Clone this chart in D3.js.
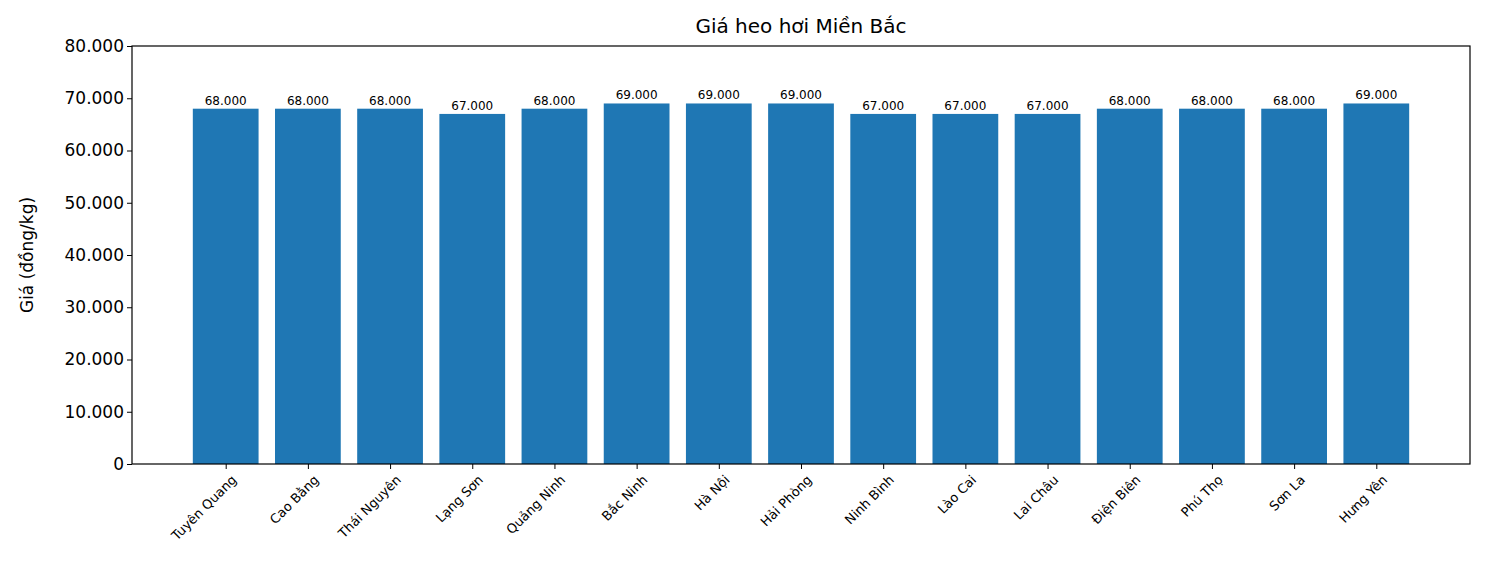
<!DOCTYPE html>
<html lang="en">
<head>
<meta charset="UTF-8">
<title>Giá heo hơi</title>
<script src="https://d3js.org/d3.v7.min.js"></script>
<style>
  body { margin: 0; background: #fff; font-family: "DejaVu Sans", sans-serif; }
</style>
</head>
<body>
<div id="chart"></div>
<script>
const provinces = ["Tuyên Quang", "Cao Bằng", "Thái Nguyên", "Lạng Sơn", "Quảng Ninh", "Bắc Ninh", "Hà Nội",
  "Hải Phòng", "Ninh Bình", "Lào Cai", "Lai Châu", "Điện Biên", "Phú Thọ", "Sơn La", "Hưng Yên"]
const prices = [68000, 68000, 68000, 67000, 68000, 69000, 69000, 69000, 67000, 67000, 67000, 68000, 68000, 68000, 69000]
const yTicks = [0, 10000, 20000, 30000, 40000, 50000, 60000, 70000, 80000]

const W = 1485, H = 584
const margin = {top: 46, right: 15, bottom: 120, left: 132}
const width = W - margin.left - margin.right
const height = H - margin.top - margin.bottom
const fmt = v => d3.format(",")(v).replace(/,/g, ".")

const svg = d3.select("#chart").append("svg").attr("width", W).attr("height", H)
const g = svg.append("g").attr("transform", `translate(${margin.left},${margin.top})`)

// matplotlib-like continuous x axis: bars at integer positions, width 0.8
const x = d3.scaleLinear().domain([-1.14, 15.14]).range([0, width])
const y = d3.scaleLinear().domain([0, 80000]).range([height, 0])

g.selectAll("rect").data(prices).enter().append("rect")
  .attr("x", (d, i) => x(i - 0.4))
  .attr("width", x(0.8) - x(0))
  .attr("y", d => y(d))
  .attr("height", d => height - y(d))
  .attr("fill", "#1f77b4")

g.selectAll(".val").data(prices).enter().append("text")
  .attr("x", (d, i) => x(i))
  .attr("y", d => y(d) - 4)
  .attr("text-anchor", "middle")
  .attr("font-size", 12)
  .text(fmt)

const yAxis = g.append("g").call(d3.axisLeft(y).tickValues(yTicks).tickFormat(fmt).tickSizeOuter(0).tickSize(5))
yAxis.selectAll("text").attr("font-size", 17).attr("font-family", "DejaVu Sans")

const xAxis = g.append("g").attr("transform", `translate(0,${height})`)
  .call(d3.axisBottom(x).tickValues(d3.range(provinces.length)).tickFormat(i => provinces[i]).tickSizeOuter(0).tickSize(5))
xAxis.selectAll("text")
  .attr("font-size", 13).attr("font-family", "DejaVu Sans")
  .attr("text-anchor", "end")
  .attr("transform", "rotate(-45)")
  .attr("dx", "-0.3em").attr("dy", "0.9em")

g.selectAll(".domain").remove()
g.append("rect").attr("width", width).attr("height", height)
  .attr("fill", "none").attr("stroke", "#000").attr("stroke-width", 1.2)

svg.append("text").attr("x", margin.left + width / 2).attr("y", 33)
  .attr("text-anchor", "middle").attr("font-size", 20).text("Giá heo hơi Miền Bắc")

svg.append("text").attr("transform", `translate(33,${margin.top + height / 2}) rotate(-90)`)
  .attr("text-anchor", "middle").attr("font-size", 17).text("Giá (đồng/kg)")
</script>
</body>
</html>
